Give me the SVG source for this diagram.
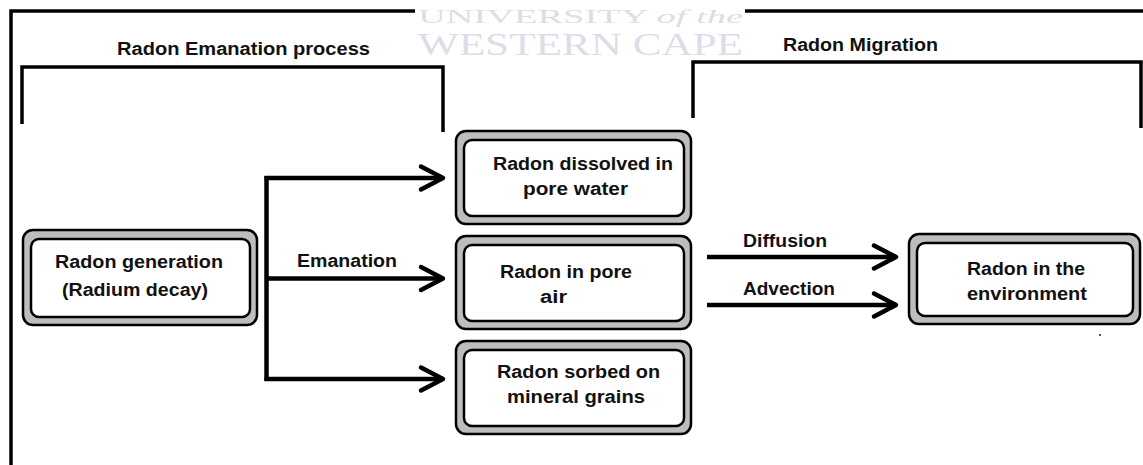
<svg xmlns="http://www.w3.org/2000/svg" width="1143" height="465" viewBox="0 0 1143 465">
<style>
.t{font-family:"Liberation Sans",Arial,sans-serif;font-weight:bold;font-size:18px;fill:#111}
.wm{font-family:"Liberation Serif","Times New Roman",serif;font-size:31px;fill:#dddde9}
.wm2{font-family:"Liberation Serif","Times New Roman",serif;font-size:18px;fill:#dddde9}
.ln{fill:none;stroke:#000;stroke-width:3.5}
.bo{fill:#bdbdbd;stroke:#000;stroke-width:2.5}
.bi{fill:#fff;stroke:#000;stroke-width:2.5}
.c{fill:none;stroke:#000;stroke-width:4.5}
</style>
<defs>
<marker id="arr" markerUnits="userSpaceOnUse" markerWidth="34" markerHeight="34" viewBox="-5 -17 34 34" refX="22" refY="0" orient="auto">
<path d="M0,-11.5 L22,0 L0,11.5" fill="none" stroke="#000" stroke-width="4.5" stroke-linejoin="round" stroke-linecap="round"/>
</marker>
</defs>
<rect width="1143" height="465" fill="#fff"/>
<g id="watermark">
<text class="wm2" x="418" y="23" textLength="325" lengthAdjust="spacingAndGlyphs">UNIVERSITY <tspan font-style="italic">of the</tspan></text>
<text class="wm" x="418" y="55" textLength="325" lengthAdjust="spacingAndGlyphs">WESTERN CAPE</text>
</g>
<g id="frame">
<path class="ln" d="M11,465 V11 H415" stroke-width="3"/>
<path class="ln" d="M745,11 H1143" stroke-width="3"/>
</g>
<g id="emanation-bracket">
<path class="ln" d="M22,124 V67 H443 V132"/>
<text class="t" x="117" y="55" textLength="253" lengthAdjust="spacingAndGlyphs">Radon Emanation process</text>
</g>
<g id="migration-bracket">
<path class="ln" d="M693,118 V62 H1141 V128"/>
<text class="t" x="783" y="51" textLength="155" lengthAdjust="spacingAndGlyphs">Radon Migration</text>
</g>
<g id="connectors">
<path class="c" d="M266.5,176 V381"/>
<path class="c" d="M264.5,178 H443" marker-end="url(#arr)"/>
<path class="c" d="M266.5,278.5 H443" marker-end="url(#arr)"/>
<path class="c" d="M264.5,379 H443" marker-end="url(#arr)"/>
<path class="c" d="M707,257 H896" marker-end="url(#arr)"/>
<path class="c" d="M707,305 H896" marker-end="url(#arr)"/>
<text class="t" x="297" y="267" textLength="100" lengthAdjust="spacingAndGlyphs">Emanation</text>
<text class="t" x="743" y="247" textLength="84" lengthAdjust="spacingAndGlyphs">Diffusion</text>
<text class="t" x="743" y="295" textLength="92" lengthAdjust="spacingAndGlyphs">Advection</text>
</g>
<g id="generation">
<rect class="bo" x="23" y="230" width="234" height="95" rx="10"/>
<rect class="bi" x="31" y="239" width="219" height="78" rx="8"/>
<text class="t" x="55" y="268" textLength="168" lengthAdjust="spacingAndGlyphs">Radon generation</text>
<text class="t" x="62" y="296" textLength="146" lengthAdjust="spacingAndGlyphs">(Radium decay)</text>
</g>
<g id="pore-water">
<rect class="bo" x="456" y="131" width="235" height="93" rx="10"/>
<rect class="bi" x="464" y="140" width="220" height="76" rx="8"/>
<text class="t" x="493" y="170" textLength="180" lengthAdjust="spacingAndGlyphs">Radon dissolved in</text>
<text class="t" x="523" y="195" textLength="105" lengthAdjust="spacingAndGlyphs">pore water</text>
</g>
<g id="pore-air">
<rect class="bo" x="456" y="236" width="235" height="93" rx="10"/>
<rect class="bi" x="464" y="245" width="220" height="76" rx="8"/>
<text class="t" x="500" y="278" textLength="132" lengthAdjust="spacingAndGlyphs">Radon in pore</text>
<text class="t" x="540" y="303" textLength="27" lengthAdjust="spacingAndGlyphs">air</text>
</g>
<g id="sorbed">
<rect class="bo" x="456" y="341" width="235" height="93" rx="10"/>
<rect class="bi" x="464" y="350" width="220" height="76" rx="8"/>
<text class="t" x="497" y="378" textLength="163" lengthAdjust="spacingAndGlyphs">Radon sorbed on</text>
<text class="t" x="507" y="403" textLength="138" lengthAdjust="spacingAndGlyphs">mineral grains</text>
</g>
<g id="environment">
<rect class="bo" x="909" y="234" width="231" height="90" rx="10"/>
<rect class="bi" x="917" y="243" width="216" height="73" rx="8"/>
<text class="t" x="967" y="275" textLength="118" lengthAdjust="spacingAndGlyphs">Radon in the</text>
<text class="t" x="967" y="300" textLength="120" lengthAdjust="spacingAndGlyphs">environment</text>
</g>
<rect x="1099" y="334" width="2" height="2" fill="#555"/>
</svg>
